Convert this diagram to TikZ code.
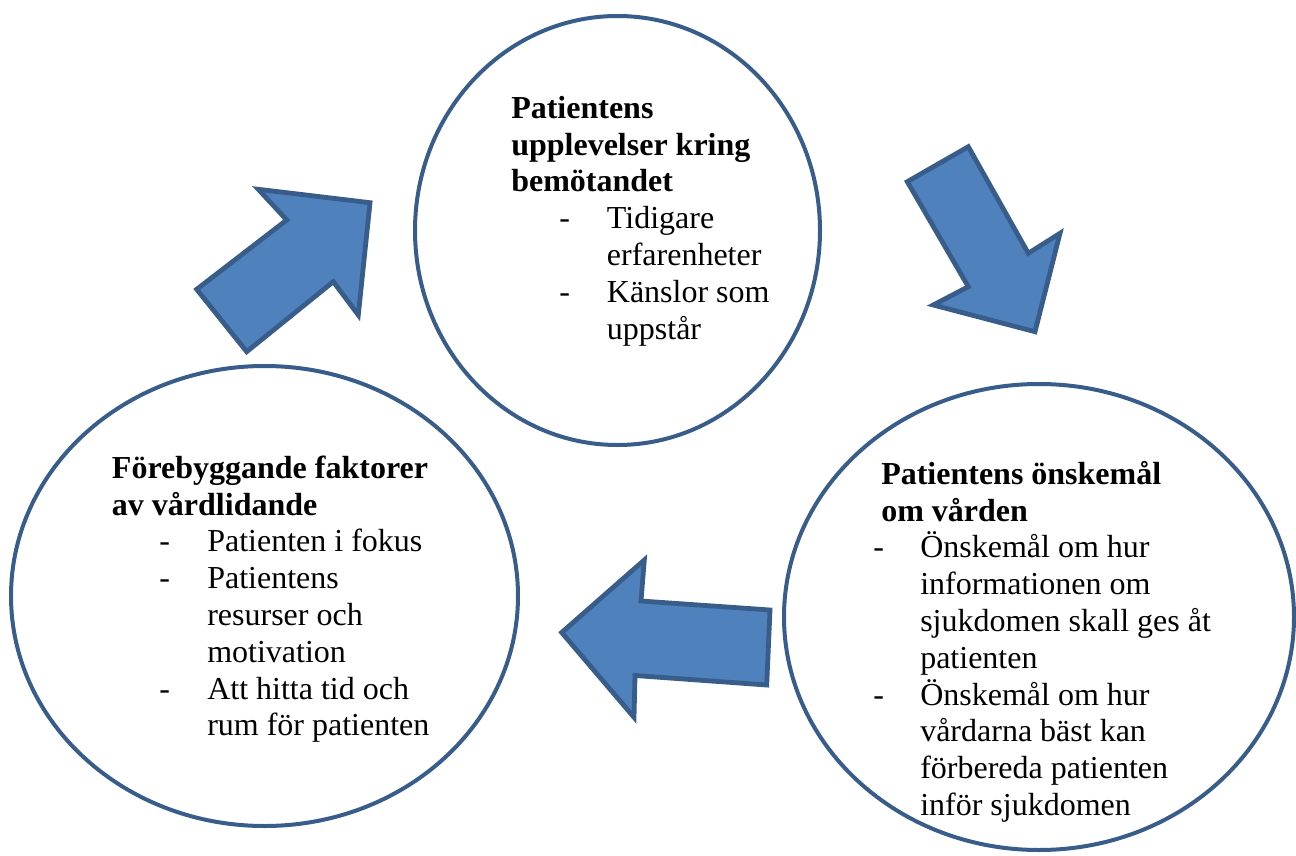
\documentclass[tikz,border=0pt]{standalone}
\usepackage{fontspec}
\setmainfont{Liberation Serif}
\usetikzlibrary{shapes.geometric}
\definecolor{afill}{HTML}{4F81BD}
\definecolor{aline}{HTML}{385D8A}
\begin{document}
\begin{tikzpicture}[x=0.75pt,y=-0.75pt,
  circ/.style={ellipse,draw=aline,line width=3pt,inner sep=0pt},
  blockarrow/.style={draw=aline,fill=afill,line width=3.6pt,line join=miter},
  txt/.style={anchor=north west,inner sep=0pt,align=left,font=\fontsize{24}{27.6}\selectfont}]
\useasboundingbox (0,0) rectangle (1296,856);
% circles
\node[circ,minimum width=303.75pt,minimum height=321.75pt] (top) at (617.5,230.5) {};
\node[circ,minimum width=380.25pt,minimum height=345pt] (left) at (264.5,596) {};
\node[circ,minimum width=382.5pt,minimum height=349.5pt] (right) at (1039,617) {};
% arrows
\draw[blockarrow] (196.7,289.3) -- (286.7,220) -- (258.3,189.3) -- (370,202.7) -- (358.3,315) -- (333.3,281.7) -- (246.7,351.7) -- cycle;
\draw[blockarrow] (907.3,181.7) -- (968.3,146.7) -- (1028.3,253.3) -- (1060,233.3) -- (1035,331.7) -- (933.3,305) -- (968.3,286.7) -- cycle;
\draw[blockarrow] (561.7,632.5) -- (644.3,560) -- (641,601) -- (770,610) -- (766.7,685) -- (635,675.5) -- (634,717.3) -- cycle;
% texts
\node[txt] (ttop) at (511,92.24) {\strut\textbf{Patientens}\\
\textbf{upplevelser kring}\\
\textbf{bemötandet}\\
\hspace*{36pt}\makebox[35.75pt][l]{-}Tidigare\\
\hspace*{71.75pt}erfarenheter\\
\hspace*{36pt}\makebox[35.75pt][l]{-}Känslor som\\
\hspace*{71.75pt}uppstår};
\node[txt] (tleft) at (111.7,452.24) {\strut\textbf{Förebyggande faktorer}\\
\textbf{av vårdlidande}\\
\hspace*{35.5pt}\makebox[36pt][l]{-}Patienten i fokus\\
\hspace*{35.5pt}\makebox[36pt][l]{-}Patientens\\
\hspace*{71.5pt}resurser och\\
\hspace*{71.5pt}motivation\\
\hspace*{35.5pt}\makebox[36pt][l]{-}Att hitta tid och\\
\hspace*{71.5pt}rum för patienten};
\node[txt] (tright) at (873,458.24) {\strut\hspace*{6pt}\textbf{Patientens önskemål}\\
\hspace*{6pt}\textbf{om vården}\\
\makebox[35.25pt][l]{-}Önskemål om hur\\
\hspace*{35.25pt}informationen om\\
\hspace*{35.25pt}sjukdomen skall ges åt\\
\hspace*{35.25pt}patienten\\
\makebox[35.25pt][l]{-}Önskemål om hur\\
\hspace*{35.25pt}vårdarna bäst kan\\
\hspace*{35.25pt}förbereda patienten\\
\hspace*{35.25pt}inför sjukdomen};
\end{tikzpicture}
\end{document}
